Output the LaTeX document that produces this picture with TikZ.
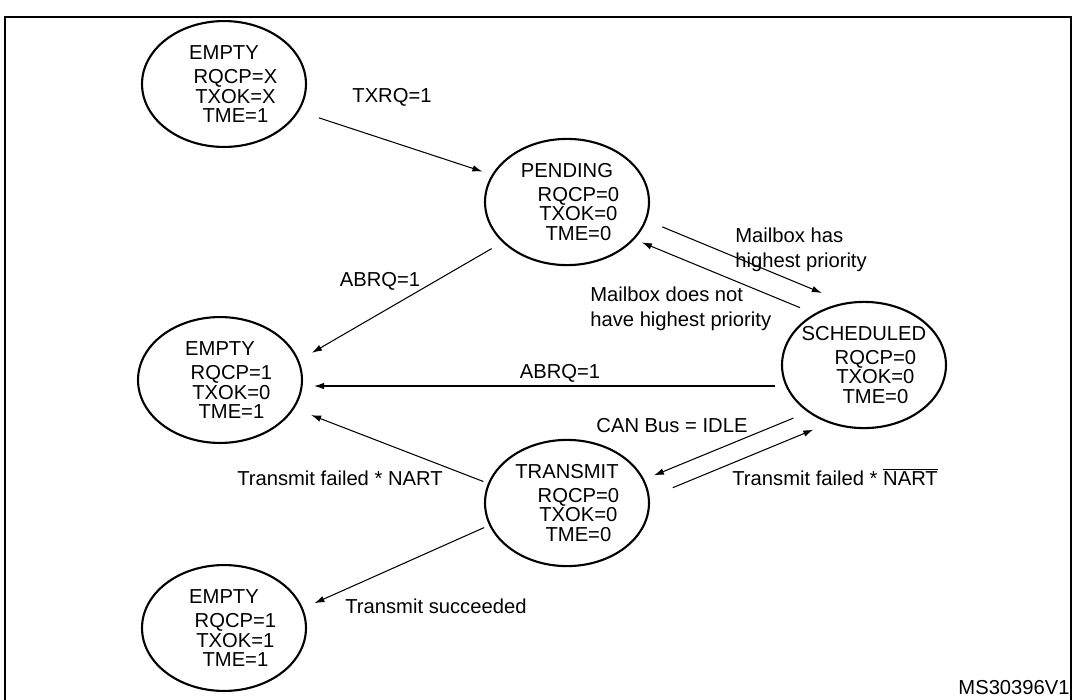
\documentclass[tikz,border=0pt]{standalone}
\usepackage{fontspec}
\setmainfont{Liberation Sans}
\usetikzlibrary{arrows.meta,shapes.geometric}

% state text: name, then the three flags a bit to the right
\newcommand{\stateinfo}[4]{\makebox[0pt]{\begin{tabular}{@{}c@{}}\rule{0pt}{11.5pt}#1\\[2pt]\hspace*{13pt}#2\\\hspace*{13pt}#3\\\hspace*{13pt}#4\end{tabular}}}

\begin{document}
\begin{tikzpicture}[x=0.02cm,y=-0.02cm,font=\fontsize{11.5}{11}\selectfont,>={Latex[length=2mm,width=1.3mm]},
  st/.style={draw,ellipse,line width=1.2pt,minimum width=3.28cm,minimum height=2.48cm,inner sep=0pt},
  tr/.style={->,line width=0.6pt},
  lb/.style={inner sep=0pt,align=left,font=\fontsize{11.5}{14.5}\selectfont}]
  \useasboundingbox (0,0) rectangle (1076,700);
  % cadre
  \draw[line width=1pt] (5,17) rectangle (1071,712);
  % etats
  \node[st] (emp1) at (224,84) {\stateinfo{EMPTY}{RQCP=X}{TXOK=X}{TME=1}};
  \node[st] (pend) at (567,202) {\stateinfo{PENDING}{RQCP=0}{TXOK=0}{TME=0}};
  \node[st] (emp2) at (220,380) {\stateinfo{EMPTY}{RQCP=1}{TXOK=0}{TME=1}};
  \node[st] (sched) at (864,365) {\stateinfo{SCHEDULED}{RQCP=0}{TXOK=0}{TME=0}};
  \node[st] (trans) at (567,503) {\stateinfo{TRANSMIT}{RQCP=0}{TXOK=0}{TME=0}};
  \node[st] (emp3) at (224,628) {\stateinfo{EMPTY}{RQCP=1}{TXOK=1}{TME=1}};
  % transitions
  \draw[tr,shorten <=4.2mm,shorten >=2mm] (emp1.-20) -- (pend.160);
  \draw[tr,shorten <=2.5mm,shorten >=3mm] (pend.212) -- (emp2.14);
  \draw[tr,shorten <=3.4mm,shorten >=5mm] (pend.-13) -- (sched.107);
  \draw[tr,shorten <=3.1mm,shorten >=1.6mm] (sched.134) -- (pend.-29);
  \draw[tr,shorten <=2.2mm,shorten >=2.2mm] (sched.195) -- (sched.195 -| emp2.east);
  \draw[tr,shorten <=3.1mm,shorten >=2.1mm] (sched.220) -- (trans.17);
  \draw[tr,shorten <=5mm,shorten >=3.4mm] (trans.4) -- (sched.239);
  \draw[tr,shorten <=1mm,shorten >=3.6mm] (trans.166) -- (emp2.-21);
  \draw[tr,shorten <=1.1mm,shorten >=2.5mm] (trans.196) -- (emp3.14);
  % etiquettes
  \node[lb] (txrq) at (392,97) {TXRQ=1};
  \node[lb] (abrq1) at (380,281) {ABRQ=1};
  \node[lb,anchor=west] (prio) at (735,250) {Mailbox has\\highest priority};
  \node[lb,anchor=west] (noprio) at (590,309) {Mailbox does not\\have highest priority};
  \node[lb] (abrq2) at (560,373) {ABRQ=1};
  \node[lb] (idle) at (672,426) {CAN Bus = IDLE};
  \node[lb,anchor=west] (failn) at (732,477) {Transmit failed * $\overline{\mbox{NART}}$};
  \node[lb] (fail) at (340,478) {Transmit failed * NART};
  \node[lb,anchor=west] (succ) at (345,606) {Transmit succeeded};
  \node[lb,anchor=east] (ref) at (1070,688) {MS30396V1};
\end{tikzpicture}
\end{document}
